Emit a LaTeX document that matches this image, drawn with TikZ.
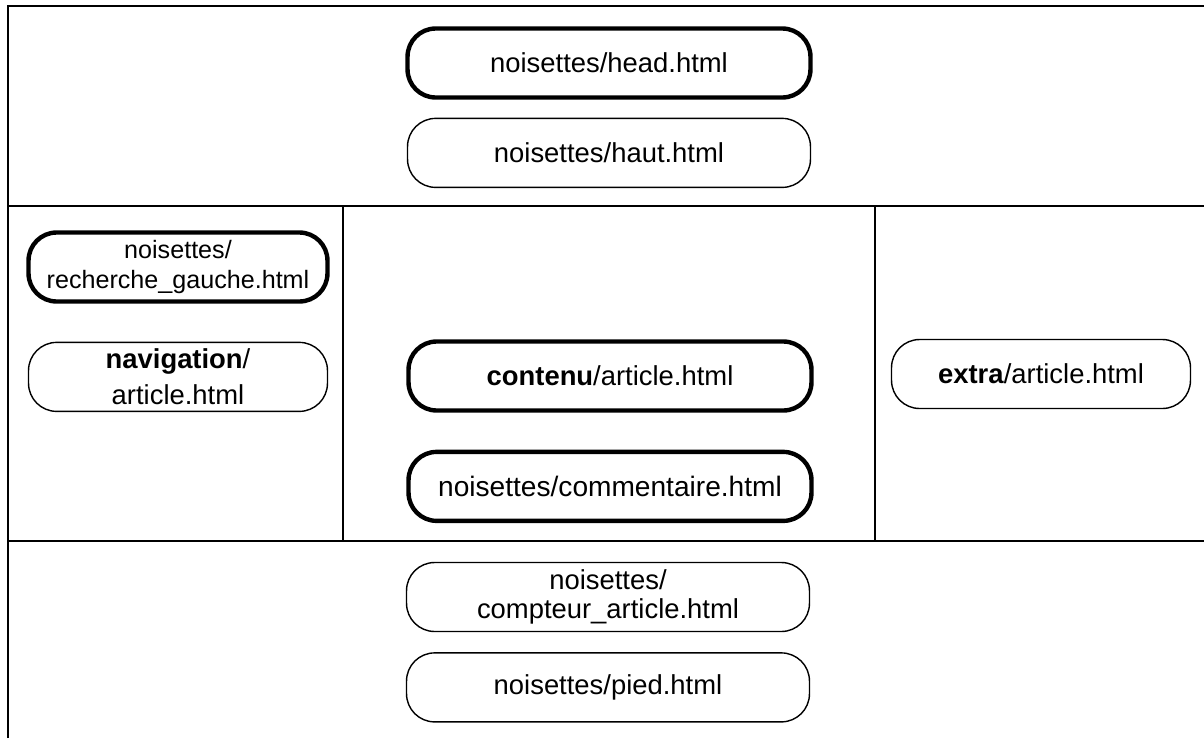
\documentclass[tikz,border=0pt]{standalone}
\usepackage{fontspec}
\setmainfont{Liberation Sans}
\usetikzlibrary{positioning}
\tikzset{>=stealth}

\begin{document}
\begin{tikzpicture}[
        x=0.02cm, y=-0.02cm,
        every node/.style={rectangle,draw,rounded corners=16pt,inner sep=0pt,
            minimum height=1.38cm,align=center,
            font=\fontsize{15.6}{16.5}\selectfont},
        large/.style={minimum width=8.06cm},
        etroit/.style={minimum width=5.98cm},
        fin/.style={line width=0.8pt},
        gras/.style={line width=2.5pt},
        cadre/.style={line width=1.1pt}
    ]
    \useasboundingbox (0,0) rectangle (1204,738);

    % cadre de la page
    \draw[cadre] (8,738) -- (8,6) -- (1204,6);
    \draw[cadre] (8,206) -- (1204,206);
    \draw[cadre] (8,541) -- (1204,541);
    \draw[cadre] (343,206) -- (343,541);
    \draw[cadre] (875,206) -- (875,541);

    % haut
    \node[large,gras] (head) at (609,63) {noisettes/head.html};
    \node[large,fin,below=0.36cm of head] (haut) {noisettes/haut.html};

    % colonne gauche
    \node[etroit,gras,font=\fontsize{14.3}{17}\selectfont] (rech) at (178,267)
        {noisettes/\\recherche\_gauche.html};
    \node[etroit,fin,below=0.76cm of rech,font=\fontsize{15.6}{20.4}\selectfont] (nav)
        {\textbf{navigation}/\\article.html};

    % contenu
    \node[large,gras] (cont) at (610,376) {\textbf{contenu}/article.html};
    \node[large,gras,below=0.74cm of cont,font=\fontsize{16}{17}\selectfont] (comm)
        {noisettes/commentaire.html};

    % colonne droite
    \node[etroit,fin] (extra) at (1041,374) {\textbf{extra}/article.html};

    % pied
    \node[large,fin] (compt) at (608,597) {noisettes/\\compteur\_article.html};
    \node[large,fin,below=0.4cm of compt] (pied) {noisettes/pied.html};
\end{tikzpicture}
\end{document}
